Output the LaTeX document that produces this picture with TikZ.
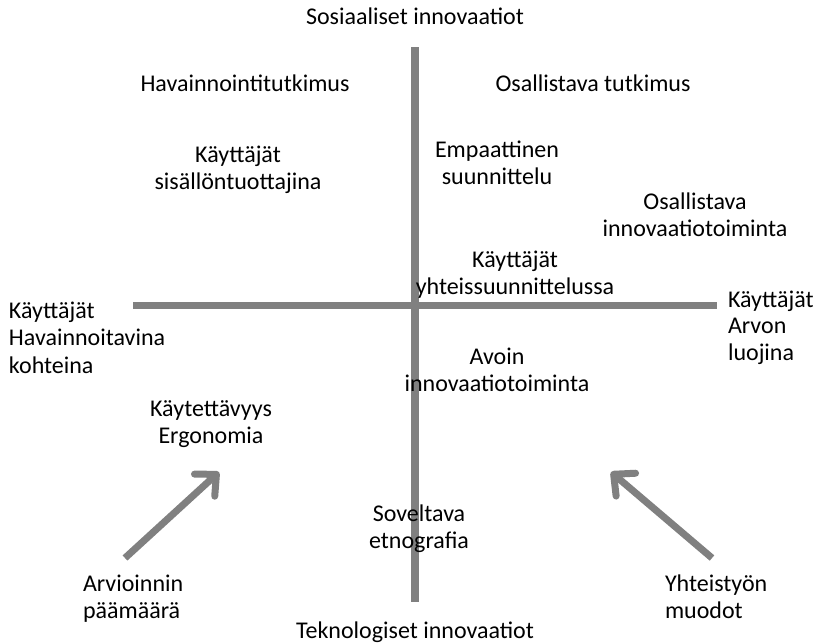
\documentclass[tikz,border=0pt]{standalone}
\usepackage{fontspec}
\setmainfont{Carlito}
\usetikzlibrary{arrows.meta}
\definecolor{axisgray}{HTML}{808080}
\begin{document}
\begin{tikzpicture}[x=1pt,y=-1pt,
  every node/.style={font=\fontsize{24}{26.3}\selectfont, inner sep=0pt, outer sep=0pt},
  lbl/.style={align=center, anchor=base},
  lblleft/.style={align=left, anchor=base west},
  axis/.style={draw=axisgray, line width=7.5pt},
  pointer/.style={draw=axisgray, line width=7pt,
    -{Straight Barb[length=16pt,width=30pt,line cap=round,line join=round]}}]
  \fill[white] (0,0) rectangle (814,643);
  \useasboundingbox (0,0) rectangle (814,643);

  % axes
  \coordinate (top) at (415,47);
  \coordinate (bottom) at (415,602);
  \coordinate (left) at (133,305.5);
  \coordinate (right) at (717,305.5);
  \draw[axis] (top) -- (bottom);
  \draw[axis] (left) -- (right);

  % axis end labels (multi-line nodes are placed by their last baseline)
  \node[lbl] (social) at (415,24) {Sosiaaliset innovaatiot};
  \node[lbl] (tech) at (415,638) {Teknologiset innovaatiot};
  \node[lblleft, font=\fontsize{24}{27.5}\selectfont] (observed) at (9,373) {Käyttäjät\\Havainnoitavina\\kohteina};
  \node[lblleft] (creators) at (728,360) {Käyttäjät\\Arvon\\luojina};

  % quadrant labels
  \node[lbl] (obsresearch) at (245,91) {Havainnointitutkimus};
  \node[lbl] (partresearch) at (593,91) {Osallistava tutkimus};
  \node[lbl] (content) at (238,189) {Käyttäjät\\sisällöntuottajina};
  \node[lbl] (empathic) at (497,184) {Empaattinen\\suunnittelu};
  \node[lbl] (partinnov) at (695,236) {Osallistava\\innovaatiotoiminta};
  \node[lbl] (codesign) at (515,294) {Käyttäjät\\yhteissuunnittelussa};
  \node[lbl] (openinnov) at (497,391) {Avoin\\innovaatiotoiminta};
  \node[lbl] (usability) at (211,443) {Käytettävyys\\Ergonomia};
  \node[lbl] (ethno) at (419,548) {Soveltava\\etnografia};

  % corner labels and their pointers
  \node[lblleft] (goal) at (83,618) {Arvioinnin\\päämäärä};
  \node[lblleft] (collab) at (665,618) {Yhteistyön\\muodot};
  \coordinate (goaltail) at (125,558);
  \coordinate (goalhead) at (219,472);
  \coordinate (collabtail) at (712,558);
  \coordinate (collabhead) at (611,472);
  \draw[pointer] (goaltail) -- (goalhead);
  \draw[pointer] (collabtail) -- (collabhead);
\end{tikzpicture}
\end{document}
